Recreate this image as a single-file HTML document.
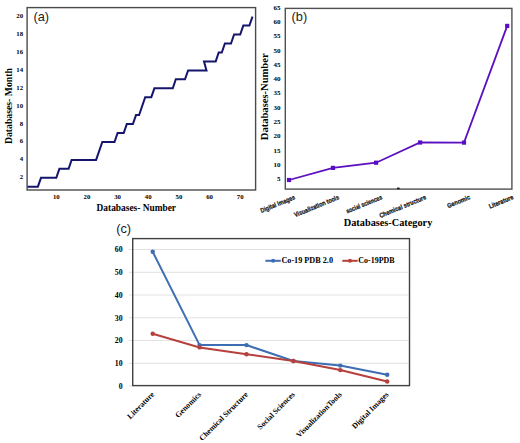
<!DOCTYPE html>
<html><head><meta charset="utf-8"><style>
html,body{margin:0;padding:0;background:#fff;width:520px;height:443px;overflow:hidden}
svg{display:block}
.serif{font-family:"Liberation Serif",serif;font-weight:bold;fill:#000}
.sans{font-family:"Liberation Sans",sans-serif;fill:#222}
</style></head><body>
<svg width="520" height="443" viewBox="0 0 520 443">
<rect width="520" height="443" fill="#fff"/>

<rect x="27.1" y="7.6" width="228.5" height="182.4" fill="none" stroke="#4a4a4a" stroke-width="1.4"/>
<text class="sans" x="33.4" y="20.6" font-size="12.8">(a)</text>
<text class="serif" x="23.1" y="179.2" font-size="6.8" text-anchor="end">2</text>
<text class="serif" x="23.1" y="161.3" font-size="6.8" text-anchor="end">4</text>
<text class="serif" x="23.1" y="143.4" font-size="6.8" text-anchor="end">6</text>
<text class="serif" x="23.1" y="125.5" font-size="6.8" text-anchor="end">8</text>
<text class="serif" x="23.1" y="107.6" font-size="6.8" text-anchor="end">10</text>
<text class="serif" x="23.1" y="89.7" font-size="6.8" text-anchor="end">12</text>
<text class="serif" x="23.1" y="71.8" font-size="6.8" text-anchor="end">14</text>
<text class="serif" x="23.1" y="53.9" font-size="6.8" text-anchor="end">16</text>
<text class="serif" x="23.1" y="35.9" font-size="6.8" text-anchor="end">18</text>
<text class="serif" x="23.1" y="18.0" font-size="6.8" text-anchor="end">20</text>
<text class="serif" x="56.3" y="199.1" font-size="6.8" text-anchor="middle">10</text>
<text class="serif" x="86.9" y="199.1" font-size="6.8" text-anchor="middle">20</text>
<text class="serif" x="117.6" y="199.1" font-size="6.8" text-anchor="middle">30</text>
<text class="serif" x="148.2" y="199.1" font-size="6.8" text-anchor="middle">40</text>
<text class="serif" x="178.9" y="199.1" font-size="6.8" text-anchor="middle">50</text>
<text class="serif" x="209.6" y="199.1" font-size="6.8" text-anchor="middle">60</text>
<text class="serif" x="240.2" y="199.1" font-size="6.8" text-anchor="middle">70</text>
<text class="serif" x="96.6" y="211" font-size="9.6" textLength="79.4" lengthAdjust="spacingAndGlyphs">Databases- Number</text>
<text class="serif" transform="translate(11.6,144.1) rotate(-90)" x="0" y="0" font-size="9.6" textLength="75.9" lengthAdjust="spacingAndGlyphs">Databases- Month</text>
<polyline points="27.6,186.7 37.9,186.7 41.0,177.8 56.3,177.8 59.4,168.8 68.6,168.8 71.6,159.9 96.1,159.9 102.3,142.0 114.5,142.0 117.6,133.0 123.7,133.0 126.8,124.1 132.9,124.1 136.0,115.1 139.1,115.1 145.2,97.2 151.3,97.2 154.4,88.3 172.8,88.3 175.8,79.3 185.0,79.3 188.1,70.4 206.5,70.4 204.0,61.4 215.7,61.4 218.7,52.5 221.8,52.5 224.9,43.5 231.0,43.5 234.1,34.5 240.2,34.5 243.3,25.6 249.4,25.6 252.5,16.6" fill="none" stroke="#15156e" stroke-width="2" stroke-linejoin="miter"/>
<rect x="285.3" y="8.4" width="226.6" height="180.7" fill="none" stroke="#505050" stroke-width="1.4"/>
<text class="sans" x="291.6" y="20.6" font-size="12.8">(b)</text>
<text class="serif" x="280.6" y="181.0" font-size="7" text-anchor="end">5</text>
<text class="serif" x="280.6" y="166.7" font-size="7" text-anchor="end">10</text>
<text class="serif" x="280.6" y="152.5" font-size="7" text-anchor="end">15</text>
<text class="serif" x="280.6" y="138.2" font-size="7" text-anchor="end">20</text>
<text class="serif" x="280.6" y="124.0" font-size="7" text-anchor="end">25</text>
<text class="serif" x="280.6" y="109.7" font-size="7" text-anchor="end">30</text>
<text class="serif" x="280.6" y="95.4" font-size="7" text-anchor="end">35</text>
<text class="serif" x="280.6" y="81.2" font-size="7" text-anchor="end">40</text>
<text class="serif" x="280.6" y="66.9" font-size="7" text-anchor="end">45</text>
<text class="serif" x="280.6" y="52.7" font-size="7" text-anchor="end">50</text>
<text class="serif" x="280.6" y="38.4" font-size="7" text-anchor="end">55</text>
<text class="serif" x="280.6" y="24.1" font-size="7" text-anchor="end">60</text>
<text class="serif" x="280.6" y="9.9" font-size="7" text-anchor="end">65</text>
<text class="serif" transform="translate(267.7,140.2) rotate(-90)" font-size="9.6" textLength="86.8" lengthAdjust="spacingAndGlyphs">Databases-Number</text>
<text class="serif" x="343.8" y="225.9" font-size="10" textLength="88.5" lengthAdjust="spacingAndGlyphs">Databases-Category</text>
<text class="sans" transform="translate(295.6,198.9) rotate(-22.5)" font-size="6.6" font-weight="bold" stroke="#111" stroke-width="0.25" text-anchor="end" textLength="36.8" lengthAdjust="spacingAndGlyphs">Digital images</text>
<text class="sans" transform="translate(339.6,198.9) rotate(-22.5)" font-size="6.6" font-weight="bold" stroke="#111" stroke-width="0.25" text-anchor="end" textLength="48" lengthAdjust="spacingAndGlyphs">Visualization tools</text>
<text class="sans" transform="translate(382.7,198.9) rotate(-22.5)" font-size="6.6" font-weight="bold" stroke="#111" stroke-width="0.25" text-anchor="end" textLength="38.4" lengthAdjust="spacingAndGlyphs">social sciences</text>
<text class="sans" transform="translate(426.7,198.9) rotate(-22.5)" font-size="6.6" font-weight="bold" stroke="#111" stroke-width="0.25" text-anchor="end" textLength="50.1" lengthAdjust="spacingAndGlyphs">Chemical structure</text>
<text class="sans" transform="translate(470.6,198.9) rotate(-22.5)" font-size="6.6" font-weight="bold" stroke="#111" stroke-width="0.25" text-anchor="end" textLength="24.2" lengthAdjust="spacingAndGlyphs">Genomic</text>
<text class="sans" transform="translate(513.8,198.9) rotate(-22.5)" font-size="6.6" font-weight="bold" stroke="#111" stroke-width="0.25" text-anchor="end" textLength="25.9" lengthAdjust="spacingAndGlyphs">Literature</text>
<polyline points="289.0,180.0 333.0,167.9 376.1,162.7 420.1,142.5 464.0,142.6 507.2,25.9" fill="none" stroke="#5c0fc0" stroke-width="1.8"/>
<rect x="286.9" y="177.9" width="4.2" height="4.2" fill="#5a0ec4"/>
<rect x="330.9" y="165.8" width="4.2" height="4.2" fill="#5a0ec4"/>
<rect x="374.0" y="160.6" width="4.2" height="4.2" fill="#5a0ec4"/>
<rect x="418.0" y="140.4" width="4.2" height="4.2" fill="#5a0ec4"/>
<rect x="461.9" y="140.5" width="4.2" height="4.2" fill="#5a0ec4"/>
<rect x="505.1" y="23.8" width="4.2" height="4.2" fill="#5a0ec4"/>
<rect x="397" y="187.6" width="2.6" height="1.6" fill="#111"/>
<line x1="128.8" y1="386.1" x2="132" y2="386.1" stroke="#e2e2e2" stroke-width="1"/>
<line x1="128.8" y1="363.3" x2="408.5" y2="363.3" stroke="#e2e2e2" stroke-width="1"/>
<line x1="128.8" y1="340.5" x2="408.5" y2="340.5" stroke="#e2e2e2" stroke-width="1"/>
<line x1="128.8" y1="317.8" x2="408.5" y2="317.8" stroke="#e2e2e2" stroke-width="1"/>
<line x1="128.8" y1="295.0" x2="408.5" y2="295.0" stroke="#e2e2e2" stroke-width="1"/>
<line x1="128.8" y1="272.3" x2="408.5" y2="272.3" stroke="#e2e2e2" stroke-width="1"/>
<line x1="128.8" y1="249.5" x2="408.5" y2="249.5" stroke="#e2e2e2" stroke-width="1"/>
<rect x="132.7" y="238.6" width="276.8" height="147" fill="none" stroke="#404040" stroke-width="1.4"/>
<text class="sans" x="116.2" y="233.1" font-size="12.8">(c)</text>
<text class="serif" x="122.6" y="389.0" font-size="7.8" text-anchor="end">0</text>
<text class="serif" x="122.6" y="366.2" font-size="7.8" text-anchor="end">10</text>
<text class="serif" x="122.6" y="343.4" font-size="7.8" text-anchor="end">20</text>
<text class="serif" x="122.6" y="320.7" font-size="7.8" text-anchor="end">30</text>
<text class="serif" x="122.6" y="297.9" font-size="7.8" text-anchor="end">40</text>
<text class="serif" x="122.6" y="275.2" font-size="7.8" text-anchor="end">50</text>
<text class="serif" x="122.6" y="252.4" font-size="7.8" text-anchor="end">60</text>
<polyline points="152.7,251.8 199.6,345.1 246.5,345.1 293.4,361.0 340.3,365.6 387.2,374.7" fill="none" stroke="#3d6db2" stroke-width="2"/>
<polyline points="152.7,333.7 199.6,347.4 246.5,354.2 293.4,361.0 340.3,370.1 387.2,381.5" fill="none" stroke="#b73f3c" stroke-width="2"/>
<circle cx="152.7" cy="251.8" r="2.2" fill="#3d6db2"/>
<circle cx="199.6" cy="345.1" r="2.2" fill="#3d6db2"/>
<circle cx="246.5" cy="345.1" r="2.2" fill="#3d6db2"/>
<circle cx="293.4" cy="361.0" r="2.2" fill="#3d6db2"/>
<circle cx="340.3" cy="365.6" r="2.2" fill="#3d6db2"/>
<circle cx="387.2" cy="374.7" r="2.2" fill="#3d6db2"/>
<circle cx="152.7" cy="333.7" r="2.2" fill="#b73f3c"/>
<circle cx="199.6" cy="347.4" r="2.2" fill="#b73f3c"/>
<circle cx="246.5" cy="354.2" r="2.2" fill="#b73f3c"/>
<circle cx="293.4" cy="361.0" r="2.2" fill="#b73f3c"/>
<circle cx="340.3" cy="370.1" r="2.2" fill="#b73f3c"/>
<circle cx="387.2" cy="381.5" r="2.2" fill="#b73f3c"/>
<line x1="265.4" y1="260.8" x2="280.8" y2="260.8" stroke="#3d6db2" stroke-width="2"/><circle cx="273.1" cy="260.8" r="2" fill="#3d6db2"/>
<text class="serif" x="281.4" y="263.3" font-size="8.2" textLength="51.6" lengthAdjust="spacingAndGlyphs">Co-19 PDB 2.0</text>
<line x1="342.3" y1="260.8" x2="357.7" y2="260.8" stroke="#b73f3c" stroke-width="2"/><circle cx="350" cy="260.8" r="2" fill="#b73f3c"/>
<text class="serif" x="358.3" y="263.3" font-size="8.2" textLength="36.3" lengthAdjust="spacingAndGlyphs">Co-19PDB</text>
<text class="serif" transform="translate(154.7,395) rotate(-45)" font-size="7.8" text-anchor="end">Literature</text>
<text class="serif" transform="translate(201.6,395) rotate(-45)" font-size="7.8" text-anchor="end">Genomics</text>
<text class="serif" transform="translate(248.5,395) rotate(-45)" font-size="7.8" text-anchor="end">Chemical Structure</text>
<text class="serif" transform="translate(295.4,395) rotate(-45)" font-size="7.8" text-anchor="end">Social Sciences</text>
<text class="serif" transform="translate(342.3,395) rotate(-45)" font-size="7.8" text-anchor="end">VisualizationTools</text>
<text class="serif" transform="translate(389.2,395) rotate(-45)" font-size="7.8" text-anchor="end">Digital Images</text>
</svg></body></html>
